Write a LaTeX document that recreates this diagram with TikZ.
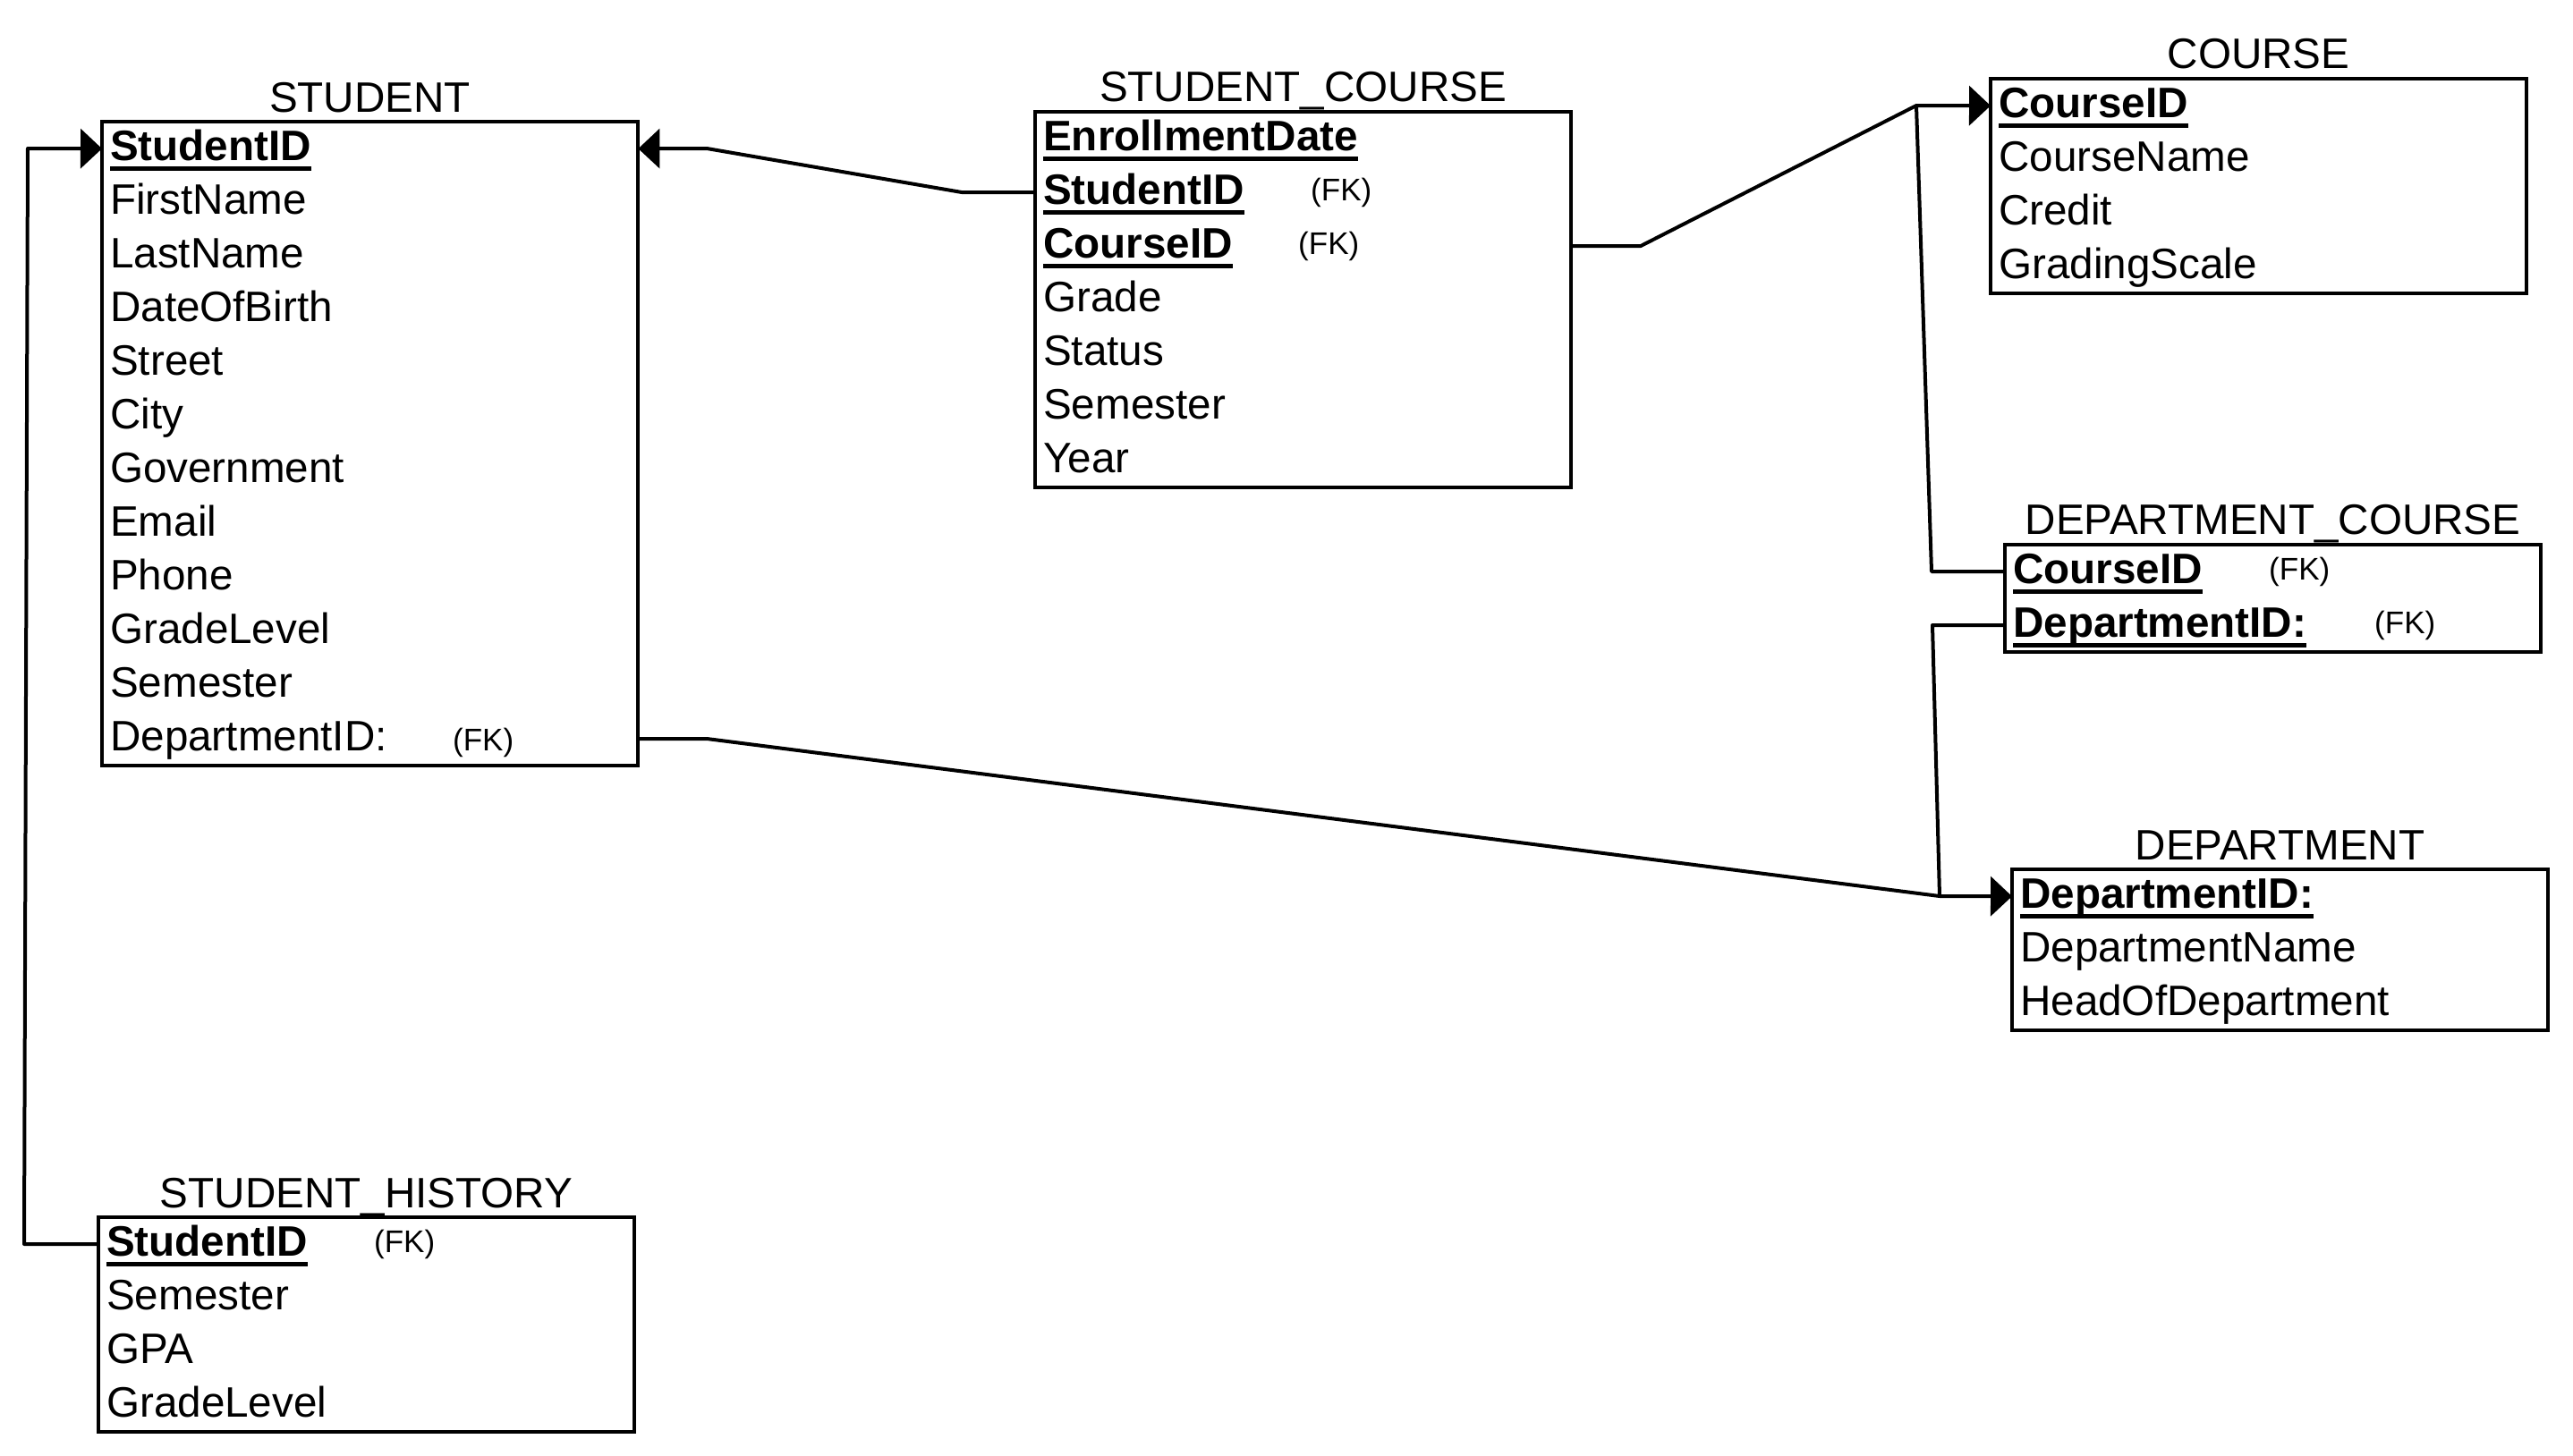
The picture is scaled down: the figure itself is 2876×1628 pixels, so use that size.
\documentclass[tikz,border=0pt]{standalone}
\usepackage{fontspec}
\setmainfont{Liberation Sans}
\usetikzlibrary{arrows.meta,fit}
\newcommand\ulb[1]{\setbox0\hbox{\bfseries #1}\rlap{\rule[-11pt]{\wd0}{5pt}}\box0}
\begin{document}
\begin{tikzpicture}[x=1pt,y=-1pt,
  rowtext/.style={anchor=north west, inner xsep=9pt, inner ysep=0pt,
    minimum height=60pt, text width=581pt, align=left,
    text height=27pt, text depth=0pt, font=\fontsize{47.6}{56}\selectfont},
  ebox/.style={draw, line width=4pt, inner sep=0pt},
  etitle/.style={anchor=base, inner sep=0pt, font=\fontsize{47.6}{56}\selectfont},
  fk/.style={anchor=base west, inner sep=0pt, font=\fontsize{35}{42}\selectfont},
  conn/.style={line width=4pt, line join=round},
  arr/.style={-{Triangle[length=24pt,width=44pt]}}
]
\fill[white] (0,0) rectangle (2876,1628);
\useasboundingbox (0,0) rectangle (2876,1628);

% STUDENT
\foreach \t [count=\i] in {{\ulb{StudentID}},FirstName,LastName,DateOfBirth,Street,City,Government,Email,Phone,GradeLevel,Semester,DepartmentID:}
  \node[rowtext] (stu\i) at (114,{136+60*(\i-1)}) {\t};
\node[ebox, fit=(stu1)(stu12)] (student) {};
\node[etitle] (studentT) at (413.5,125) {STUDENT};
\node[fk] (stufk) at (506,839) {(FK)};

% STUDENT_COURSE
\foreach \t [count=\i] in {{\ulb{EnrollmentDate}},{\ulb{StudentID}},{\ulb{CourseID}},Grade,Status,Semester,Year}
  \node[rowtext] (sc\i) at (1157,{125+60*(\i-1)}) {\t};
\node[ebox, fit=(sc1)(sc7)] (stucourse) {};
\node[etitle] (stucourseT) at (1456.5,113) {STUDENT\_COURSE};
\node[fk] (scfk2) at (1465,224) {(FK)};
\node[fk] (scfk3) at (1451,284) {(FK)};

% COURSE
\foreach \t [count=\i] in {{\ulb{CourseID}},CourseName,Credit,GradingScale}
  \node[rowtext] (co\i) at (2225,{88+60*(\i-1)}) {\t};
\node[ebox, fit=(co1)(co4)] (course) {};
\node[etitle] (courseT) at (2524.5,76) {COURSE};

% DEPARTMENT_COURSE
\foreach \t [count=\i] in {{\ulb{CourseID}},{\ulb{DepartmentID:}}}
  \node[rowtext] (dc\i) at (2241,{609+60*(\i-1)}) {\t};
\node[ebox, fit=(dc1)(dc2)] (deptcourse) {};
\node[etitle] (deptcourseT) at (2540.5,597) {DEPARTMENT\_COURSE};
\node[fk] (dcfk1) at (2536,648) {(FK)};
\node[fk] (dcfk2) at (2654,708) {(FK)};

% DEPARTMENT
\foreach \t [count=\i] in {{\ulb{DepartmentID:}},DepartmentName,HeadOfDepartment}
  \node[rowtext] (de\i) at (2249,{972+60*(\i-1)}) {\t};
\node[ebox, fit=(de1)(de3)] (department) {};
\node[etitle] (departmentT) at (2548.5,961) {DEPARTMENT};

% STUDENT_HISTORY
\foreach \t [count=\i] in {{\ulb{StudentID}},Semester,GPA,GradeLevel}
  \node[rowtext] (sh\i) at (110,{1361+60*(\i-1)}) {\t};
\node[ebox, fit=(sh1)(sh4)] (history) {};
\node[etitle] (historyT) at (409.5,1350) {STUDENT\_HISTORY};
\node[fk] (shfk) at (418,1400) {(FK)};

% junctions
\coordinate (j1) at (2142,118);
\coordinate (j2) at (2168,1002);

% connectors
\draw[conn,arr] (sh1.west) -- (27,1391) -- (31,166) -- (stu1.west);
\draw[conn,arr] (sc2.west) -- (1075,215) -- (790,166) -- (stu1.east);
\draw[conn,arr] (sc3.east) -- (1834,275) -- (j1) -- (co1.west);
\draw[conn] (j1) -- (2159,639) -- (dc1.west);
\draw[conn,arr] (dc2.west) -- (2160,699) -- (j2) -- (de1.west);
\draw[conn] (stu12.east) -- (790,826) -- (j2);
\end{tikzpicture}
\end{document}
